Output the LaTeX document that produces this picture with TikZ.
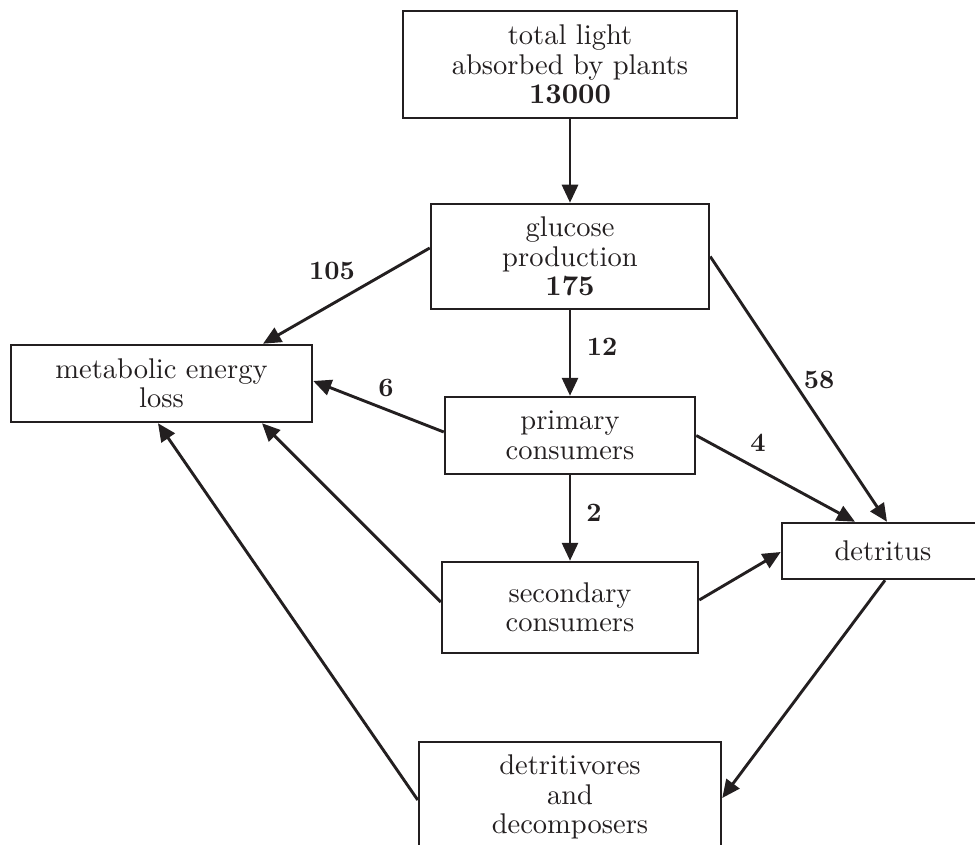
\documentclass[tikz,border=0pt]{standalone}
\usepackage{fontspec}
\setmainfont{lmroman10-regular.otf}[BoldFont=lmroman10-bold.otf]
\usetikzlibrary{arrows.meta}
\definecolor{ink}{RGB}{35,31,32}
\begin{document}
\begin{tikzpicture}[x=1pt,y=-1pt,
	box/.style={draw=ink,line width=2.5pt,align=center,inner sep=0pt,text=ink,font=\fontsize{28.5}{29.5}\selectfont},
	flow/.style={draw=ink,line width=2.9pt,-{Triangle[length=18pt,width=16pt]}},
	num/.style={inner sep=0pt,text=ink,font=\fontsize{26.5}{29}\selectfont\bfseries}]
		\useasboundingbox(0,0)rectangle(975,845);
		\clip(0,0)rectangle(975,845);
		\node[box,minimum width=334pt,minimum height=107pt](light)at(570,64.5){total light\\absorbed by plants\\\textbf{13000}};
		\node[box,minimum width=278pt,minimum height=105pt](glu)at(570,256.5){glucose\\production\\\textbf{175}};
		\node[box,minimum width=301pt,minimum height=77pt](met)at(161.5,383.5){metabolic energy\\loss};
		\node[box,minimum width=250pt,minimum height=77pt](pri)at(570,435.5){primary\\consumers};
		\node[box,minimum width=202pt,minimum height=56pt](det)at(883,551){detritus};
		\node[box,minimum width=256pt,minimum height=91pt](sec)at(570,607.5){secondary\\consumers};
		\node[box,minimum width=302pt,minimum height=110pt](dtv)at(570,797){detritivores\\and\\decomposers};
		\draw[flow](light)--(glu);
		\draw[flow]([yshift=8.5pt]glu.west)--([xshift=101.5pt]met.north);
		\draw[flow](glu)--(pri);
		\draw[flow]([yshift=3.5pt]pri.west)--([yshift=2.5pt]met.east);
		\draw[flow](glu.east)--([xshift=4pt]det.north);
		\draw[flow](pri.east)--([xshift=-28pt]det.north);
		\draw[flow](pri)--(sec);
		\draw[flow]([yshift=5.5pt]sec.west)--([xshift=100.5pt]met.south);
		\draw[flow]([yshift=7.5pt]sec.east)--([yshift=-1pt]det.west);
		\draw[flow]([yshift=-3pt]dtv.west)--([xshift=-3.5pt]met.south);
		\draw[flow]([xshift=2pt]det.south)--([yshift=-1pt]dtv.east);
		\node[num](n105)at(332,271){105};
		\node[num](n12)at(602,347){12};
		\node[num](n6)at(386,388){6};
		\node[num](n58)at(819,380){58};
		\node[num](n4)at(758,443){4};
		\node[num](n2)at(594,513){2};
	\end{tikzpicture}
\end{document}
